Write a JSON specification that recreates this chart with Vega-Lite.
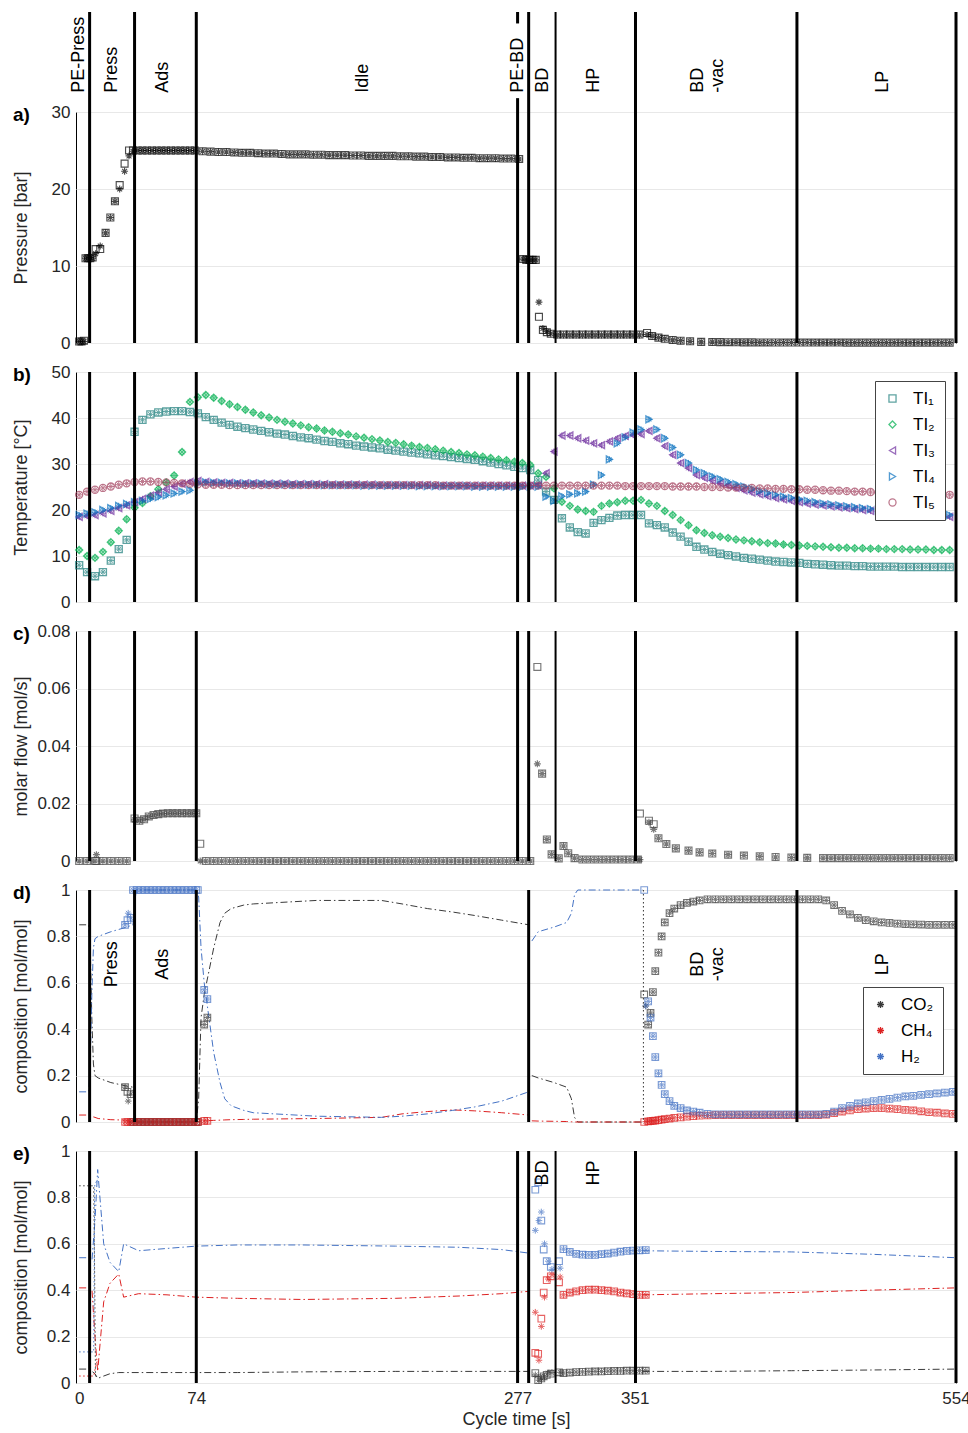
{
"$schema": "https://vega.github.io/schema/vega-lite/v6.json",
"padding": {"left": 11, "top": 9, "right": 5, "bottom": 5},
"config": {
 "font": "Liberation Sans",
 "view": {"stroke": "#000", "strokeWidth": 1},
 "axis": {"labelFont": "Liberation Sans", "titleFont": "Liberation Sans", "labelFontSize": 17, "titleFontSize": 18, "labelColor": "#262626", "titleColor": "#262626", "titleFontWeight": "normal", "ticks": false, "domain": false, "gridColor": "#e8e8e8", "labelPadding": 6, "labelFlush": false, "labelOverlap": false},
 "legend": {"labelFont": "Liberation Sans", "labelColor": "#000"}
},
"resolve": {"scale": {"color": "independent", "shape": "independent"}, "legend": {"color": "independent", "shape": "independent"}},
"datasets": {
 "ph": [{"t":6.6},{"t":35},{"t":74},{"t":277},{"t":284},{"t":351.5},{"t":453.5},{"t":554}],
 "lab": [{"t":0,"s":"PE-Press"},{"t":20.7,"s":"Press"},{"t":53,"s":"Ads"},{"t":179.3,"s":"Idle"},{"t":277.2,"s":"PE-BD"},{"t":293,"s":"BD"},{"t":325.3,"s":"HP"},{"t":391,"s":"BD\n-vac"},{"t":508,"s":"LP"}],
 "pa": [
  {"t":0,"m":0.2,"s":0.2},{"t":1.5,"m":0.2,"s":0.2},{"t":3,"m":0.3,"s":0.2},
  {"t":4,"m":11,"s":11},{"t":5.5,"m":11,"s":11},{"t":7,"m":11,"s":11.1},{"t":8.5,"m":11.1,"s":11},
  {"t":10.4,"m":12.2,"s":11.6},{"t":13.3,"m":12.2,"s":12.6},{"t":16.7,"m":14.3,"s":14.3},{"t":19.7,"m":16.3,"s":16.3},{"t":22.6,"m":18.4,"s":18.4},{"t":25.6,"m":20.5,"s":20},{"t":28.7,"m":23.3,"s":22.3},{"t":31.5,"m":25,"s":24.3},{"t":34,"m":25,"s":24.9},
  {"t":37,"m":25,"s":25},{"t":40,"m":25,"s":25},{"t":43,"m":25,"s":25},{"t":46,"m":25,"s":25},{"t":49,"m":25,"s":25},{"t":52,"m":25,"s":25},{"t":55,"m":25,"s":25},{"t":58,"m":25,"s":25},{"t":61,"m":25,"s":25},{"t":64,"m":25,"s":25},{"t":67,"m":25,"s":25},{"t":70,"m":25,"s":25},{"t":73,"m":25,"s":25},
  {"t":78,"m":24.9,"s":24.9},{"t":83,"m":24.85,"s":24.85},{"t":88,"m":24.8,"s":24.8},{"t":93,"m":24.8,"s":24.8},{"t":98,"m":24.75,"s":24.75},{"t":103,"m":24.7,"s":24.7},{"t":108,"m":24.7,"s":24.7},{"t":113,"m":24.65,"s":24.65},{"t":118,"m":24.6,"s":24.6},{"t":123,"m":24.6,"s":24.6},{"t":128,"m":24.55,"s":24.55},{"t":133,"m":24.5,"s":24.5},{"t":138,"m":24.5,"s":24.5},{"t":143,"m":24.5,"s":24.5},{"t":148,"m":24.45,"s":24.45},{"t":153,"m":24.45,"s":24.45},{"t":158,"m":24.4,"s":24.4},{"t":163,"m":24.4,"s":24.4},{"t":168,"m":24.4,"s":24.4},{"t":173,"m":24.35,"s":24.35},{"t":178,"m":24.35,"s":24.35},{"t":183,"m":24.3,"s":24.3},{"t":188,"m":24.3,"s":24.3},{"t":193,"m":24.3,"s":24.3},{"t":198,"m":24.3,"s":24.3},{"t":203,"m":24.25,"s":24.25},{"t":208,"m":24.25,"s":24.25},{"t":213,"m":24.2,"s":24.2},{"t":218,"m":24.2,"s":24.2},{"t":223,"m":24.15,"s":24.15},{"t":228,"m":24.15,"s":24.15},{"t":233,"m":24.1,"s":24.1},{"t":238,"m":24.1,"s":24.1},{"t":243,"m":24.05,"s":24.05},{"t":248,"m":24.05,"s":24.05},{"t":253,"m":24,"s":24},{"t":258,"m":24,"s":24},{"t":263,"m":24,"s":24},{"t":268,"m":23.95,"s":23.95},{"t":273,"m":23.95,"s":23.95},{"t":278,"m":23.9,"s":23.9},
  {"t":280.5,"m":10.9,"s":10.9},{"t":282.5,"m":10.8,"s":10.8},{"t":284.5,"m":10.8,"s":10.8},{"t":286.5,"m":10.8,"s":10.8},{"t":288.5,"m":10.8,"s":10.8},{"t":290.5,"m":3.4,"s":5.3},{"t":293,"m":1.7,"s":1.9},{"t":295.5,"m":1.4,"s":1.5},{"t":298,"m":1.2,"s":1.2},
  {"t":302,"m":1.1,"s":1.05},{"t":306,"m":1.1,"s":1.05},{"t":310,"m":1.1,"s":1.05},{"t":314,"m":1.1,"s":1.05},{"t":318,"m":1.1,"s":1.05},{"t":322,"m":1.1,"s":1.05},{"t":326,"m":1.1,"s":1.05},{"t":330,"m":1.1,"s":1.05},{"t":334,"m":1.1,"s":1.05},{"t":338,"m":1.1,"s":1.05},{"t":342,"m":1.1,"s":1.05},{"t":346,"m":1.1,"s":1.05},{"t":350,"m":1.1,"s":1.05},{"t":354,"m":1.1,"s":1.05},
  {"t":358.8,"m":1.3,"s":1.1},{"t":362,"m":0.9,"s":0.9},{"t":366,"m":0.7,"s":0.7},{"t":370,"m":0.55,"s":0.55},{"t":375,"m":0.4,"s":0.4},{"t":380,"m":0.3,"s":0.3},{"t":386,"m":0.22,"s":0.22},{"t":393,"m":0.15,"s":0.15},{"t":400,"m":0.12,"s":0.12},
  {"t":405,"m":0.11,"s":0.11},{"t":410,"m":0.1,"s":0.1},{"t":415,"m":0.09,"s":0.09},{"t":420,"m":0.085,"s":0.085},{"t":425,"m":0.08,"s":0.08},{"t":430,"m":0.075,"s":0.075},{"t":435,"m":0.07,"s":0.07},{"t":440,"m":0.065,"s":0.065},{"t":445,"m":0.06,"s":0.06},{"t":450,"m":0.06,"s":0.06},{"t":455,"m":0.06,"s":0.06},{"t":460,"m":0.06,"s":0.06},{"t":465,"m":0.055,"s":0.055},{"t":470,"m":0.055,"s":0.055},{"t":475,"m":0.055,"s":0.055},{"t":480,"m":0.055,"s":0.055},{"t":485,"m":0.05,"s":0.05},{"t":490,"m":0.05,"s":0.05},{"t":495,"m":0.05,"s":0.05},{"t":500,"m":0.05,"s":0.05},{"t":505,"m":0.05,"s":0.05},{"t":510,"m":0.05,"s":0.05},{"t":515,"m":0.05,"s":0.05},{"t":520,"m":0.05,"s":0.05},{"t":525,"m":0.05,"s":0.05},{"t":530,"m":0.05,"s":0.05},{"t":535,"m":0.05,"s":0.05},{"t":540,"m":0.05,"s":0.05},{"t":545,"m":0.05,"s":0.05},{"t":550,"m":0.05,"s":0.05}
 ],
 "pb": [
  {"t":0,"a":8.0,"b":11.3,"c":18.5,"d":18.9,"e":23.3},{"t":5,"a":6.5,"b":10.0,"c":18.7,"d":19.2,"e":24.0},{"t":10,"a":5.6,"b":9.6,"c":18.9,"d":19.5,"e":24.4},{"t":15,"a":6.5,"b":10.9,"c":19.3,"d":20.0,"e":24.8},{"t":20,"a":9.0,"b":13.0,"c":19.8,"d":20.4,"e":25.1},{"t":25,"a":11.5,"b":15.5,"c":20.4,"d":20.9,"e":25.5},{"t":30,"a":13.5,"b":18.0,"c":21.0,"d":21.3,"e":25.8},
  {"t":35,"a":37.0,"b":20.5,"c":21.7,"d":21.7,"e":26.1},{"t":40,"a":39.6,"b":21.5,"c":22.4,"d":22.0,"e":26.2},{"t":45,"a":40.8,"b":23.0,"c":23.1,"d":22.4,"e":26.2},{"t":50,"a":41.2,"b":24.5,"c":23.8,"d":22.8,"e":26.1},{"t":55,"a":41.4,"b":26.0,"c":24.5,"d":23.2,"e":26.0},{"t":60,"a":41.5,"b":27.5,"c":25.1,"d":23.6,"e":25.9},{"t":65,"a":41.5,"b":32.6,"c":25.7,"d":24.0,"e":25.8},{"t":70,"a":41.3,"b":43.5,"c":26.1,"d":24.3,"e":25.7},
  {"t":75,"a":41.0,"b":44.5,"c":26.3,"d":25.8,"e":25.6},{"t":80,"a":40.2,"b":45.0,"c":26.1,"d":26.0,"e":25.5},{"t":85,"a":39.6,"b":44.4,"c":26.0,"d":25.9,"e":25.5},{"t":90,"a":39.0,"b":43.7,"c":25.9,"d":25.9,"e":25.5},{"t":95,"a":38.5,"b":43.0,"c":25.9,"d":25.8,"e":25.4},{"t":100,"a":38.1,"b":42.4,"c":25.8,"d":25.8,"e":25.4},{"t":105,"a":37.8,"b":41.8,"c":25.8,"d":25.7,"e":25.4},{"t":110,"a":37.5,"b":41.2,"c":25.8,"d":25.7,"e":25.4},{"t":115,"a":37.2,"b":40.6,"c":25.7,"d":25.7,"e":25.4},{"t":120,"a":36.9,"b":40.1,"c":25.7,"d":25.6,"e":25.4},{"t":125,"a":36.6,"b":39.6,"c":25.7,"d":25.6,"e":25.4},{"t":130,"a":36.4,"b":39.2,"c":25.7,"d":25.6,"e":25.4},{"t":135,"a":36.1,"b":38.8,"c":25.6,"d":25.5,"e":25.4},{"t":140,"a":35.8,"b":38.4,"c":25.6,"d":25.5,"e":25.4},{"t":145,"a":35.6,"b":38.0,"c":25.6,"d":25.5,"e":25.4},{"t":150,"a":35.3,"b":37.7,"c":25.6,"d":25.5,"e":25.4},{"t":155,"a":35.0,"b":37.3,"c":25.6,"d":25.4,"e":25.4},{"t":160,"a":34.8,"b":37.0,"c":25.5,"d":25.4,"e":25.4},{"t":165,"a":34.5,"b":36.7,"c":25.5,"d":25.4,"e":25.4},{"t":170,"a":34.3,"b":36.4,"c":25.5,"d":25.4,"e":25.4},{"t":175,"a":34.0,"b":36.0,"c":25.5,"d":25.4,"e":25.4},{"t":180,"a":33.8,"b":35.7,"c":25.5,"d":25.3,"e":25.4},{"t":185,"a":33.6,"b":35.4,"c":25.5,"d":25.3,"e":25.4},{"t":190,"a":33.4,"b":35.1,"c":25.4,"d":25.3,"e":25.4},{"t":195,"a":33.1,"b":34.8,"c":25.4,"d":25.3,"e":25.4},{"t":200,"a":32.9,"b":34.6,"c":25.4,"d":25.3,"e":25.4},{"t":205,"a":32.7,"b":34.3,"c":25.4,"d":25.3,"e":25.4},{"t":210,"a":32.5,"b":34.0,"c":25.4,"d":25.3,"e":25.4},{"t":215,"a":32.3,"b":33.7,"c":25.4,"d":25.2,"e":25.4},{"t":220,"a":32.1,"b":33.5,"c":25.4,"d":25.2,"e":25.4},{"t":225,"a":31.9,"b":33.2,"c":25.3,"d":25.2,"e":25.4},{"t":230,"a":31.7,"b":32.9,"c":25.3,"d":25.2,"e":25.3},{"t":235,"a":31.5,"b":32.6,"c":25.3,"d":25.2,"e":25.3},{"t":240,"a":31.3,"b":32.4,"c":25.3,"d":25.2,"e":25.3},{"t":245,"a":31.1,"b":32.1,"c":25.3,"d":25.2,"e":25.3},{"t":250,"a":30.9,"b":31.9,"c":25.3,"d":25.1,"e":25.3},{"t":255,"a":30.6,"b":31.6,"c":25.3,"d":25.1,"e":25.3},{"t":260,"a":30.3,"b":31.3,"c":25.3,"d":25.1,"e":25.3},{"t":265,"a":30.0,"b":31.0,"c":25.3,"d":25.1,"e":25.3},{"t":270,"a":29.7,"b":30.8,"c":25.3,"d":25.1,"e":25.3},{"t":275,"a":29.4,"b":30.5,"c":25.3,"d":25.1,"e":25.3},{"t":280,"a":29.1,"b":30.2,"c":25.3,"d":25.1,"e":25.3},{"t":285,"a":28.7,"b":29.8,"c":25.3,"d":25.1,"e":25.3},
  {"t":290,"a":26.5,"b":28.0,"c":25.4,"d":25.1,"e":25.3},{"t":295,"a":24.0,"b":27.2,"c":28.0,"d":22.9,"e":25.3},{"t":300,"a":22.2,"b":24.7,"c":32.7,"d":22.0,"e":25.3},{"t":305,"a":18.2,"b":21.8,"c":36.2,"d":23.0,"e":25.3},{"t":310,"a":16.2,"b":20.9,"c":36.2,"d":23.4,"e":25.3},{"t":315,"a":15.2,"b":20.1,"c":35.6,"d":23.6,"e":25.3},{"t":320,"a":14.9,"b":19.8,"c":35.1,"d":24.0,"e":25.3},{"t":325,"a":17.2,"b":19.6,"c":34.5,"d":25.5,"e":25.3},{"t":330,"a":17.8,"b":20.9,"c":34.1,"d":27.6,"e":25.3},{"t":335,"a":18.3,"b":21.4,"c":34.9,"d":31.0,"e":25.3},{"t":340,"a":18.8,"b":21.7,"c":35.6,"d":34.5,"e":25.3},{"t":345,"a":18.9,"b":22.0,"c":36.1,"d":35.8,"e":25.2},{"t":350,"a":18.9,"b":22.0,"c":36.3,"d":36.8,"e":25.2},{"t":355,"a":18.9,"b":22.2,"c":36.5,"d":37.5,"e":25.2},{"t":360,"a":17.1,"b":21.4,"c":37.2,"d":39.7,"e":25.2},{"t":365,"a":16.7,"b":20.9,"c":35.6,"d":37.5,"e":25.2},{"t":370,"a":16.2,"b":19.8,"c":33.9,"d":35.6,"e":25.2},{"t":375,"a":15.1,"b":18.9,"c":32.0,"d":33.6,"e":25.1},{"t":380,"a":14.2,"b":17.8,"c":30.2,"d":32.0,"e":25.1},{"t":385,"a":13.1,"b":16.7,"c":29.1,"d":30.2,"e":25.1},{"t":390,"a":12.0,"b":15.6,"c":27.6,"d":28.7,"e":25.1},{"t":395,"a":11.4,"b":15.0,"c":27.0,"d":28.0,"e":25.0},{"t":400,"a":10.9,"b":14.5,"c":26.4,"d":27.3,"e":25.0},{"t":405,"a":10.5,"b":14.2,"c":25.8,"d":26.7,"e":25.0},{"t":410,"a":10.2,"b":13.9,"c":25.3,"d":26.1,"e":24.9},{"t":415,"a":9.9,"b":13.6,"c":24.8,"d":25.6,"e":24.9},{"t":420,"a":9.6,"b":13.4,"c":24.3,"d":25.1,"e":24.8},{"t":425,"a":9.4,"b":13.2,"c":23.8,"d":24.6,"e":24.8},{"t":430,"a":9.2,"b":13.0,"c":23.4,"d":24.1,"e":24.7},{"t":435,"a":9.0,"b":12.8,"c":23.0,"d":23.7,"e":24.7},{"t":440,"a":8.8,"b":12.7,"c":22.6,"d":23.3,"e":24.6},{"t":445,"a":8.7,"b":12.5,"c":22.3,"d":22.9,"e":24.6},{"t":450,"a":8.6,"b":12.4,"c":22.0,"d":22.6,"e":24.5},{"t":455,"a":8.5,"b":12.3,"c":21.7,"d":22.3,"e":24.5},{"t":460,"a":8.3,"b":12.2,"c":21.4,"d":22.0,"e":24.4},{"t":465,"a":8.2,"b":12.1,"c":21.2,"d":21.7,"e":24.4},{"t":470,"a":8.1,"b":12.0,"c":21.0,"d":21.4,"e":24.3},{"t":475,"a":8.0,"b":11.9,"c":20.8,"d":21.2,"e":24.2},{"t":480,"a":7.9,"b":11.8,"c":20.6,"d":21.0,"e":24.2},{"t":485,"a":7.9,"b":11.8,"c":20.4,"d":20.8,"e":24.1},{"t":490,"a":7.8,"b":11.7,"c":20.2,"d":20.6,"e":24.0},{"t":495,"a":7.8,"b":11.7,"c":20.0,"d":20.4,"e":24.0},{"t":500,"a":7.7,"b":11.6,"c":19.8,"d":20.2,"e":23.9},{"t":505,"a":7.7,"b":11.6,"c":19.6,"d":20.0,"e":23.8},{"t":510,"a":7.7,"b":11.5,"c":19.5,"d":19.9,"e":23.8},{"t":515,"a":7.7,"b":11.5,"c":19.3,"d":19.7,"e":23.7},{"t":520,"a":7.6,"b":11.5,"c":19.2,"d":19.6,"e":23.6},{"t":525,"a":7.6,"b":11.4,"c":19.0,"d":19.4,"e":23.6},{"t":530,"a":7.6,"b":11.4,"c":18.9,"d":19.3,"e":23.5},{"t":535,"a":7.6,"b":11.4,"c":18.8,"d":19.2,"e":23.5},{"t":540,"a":7.6,"b":11.3,"c":18.7,"d":19.1,"e":23.4},{"t":545,"a":7.6,"b":11.3,"c":18.6,"d":19.0,"e":23.4},{"t":550,"a":7.6,"b":11.3,"c":18.5,"d":18.9,"e":23.3}
 ],
 "pc": [
  {"t":0,"m":0,"s":0},{"t":5,"m":0,"s":0},{"t":10,"m":0,"s":0},{"t":10.9,"m":0,"s":0.0022},{"t":15,"m":0,"s":0},{"t":20,"m":0,"s":0},{"t":25,"m":0,"s":0},{"t":30,"m":0,"s":0},
  {"t":35,"m":0.0148,"s":0.0143},{"t":38,"m":0.014,"s":0.014},{"t":41,"m":0.0145,"s":0.0145},{"t":44,"m":0.0155,"s":0.0155},{"t":47,"m":0.016,"s":0.016},{"t":50,"m":0.0163,"s":0.0163},{"t":53,"m":0.0165,"s":0.0165},{"t":56,"m":0.0166,"s":0.0166},{"t":59,"m":0.0166,"s":0.0166},{"t":62,"m":0.0166,"s":0.0166},{"t":65,"m":0.0166,"s":0.0166},{"t":68,"m":0.0166,"s":0.0166},{"t":71,"m":0.0166,"s":0.0166},{"t":74,"m":0.0166,"s":0.0166},
  {"t":76.5,"m":0.006,"s":0},
  {"t":80,"m":0,"s":0},{"t":85,"m":0,"s":0},{"t":90,"m":0,"s":0},{"t":95,"m":0,"s":0},{"t":100,"m":0,"s":0},{"t":105,"m":0,"s":0},{"t":110,"m":0,"s":0},{"t":115,"m":0,"s":0},{"t":120,"m":0,"s":0},{"t":125,"m":0,"s":0},{"t":130,"m":0,"s":0},{"t":135,"m":0,"s":0},{"t":140,"m":0,"s":0},{"t":145,"m":0,"s":0},{"t":150,"m":0,"s":0},{"t":155,"m":0,"s":0},{"t":160,"m":0,"s":0},{"t":165,"m":0,"s":0},{"t":170,"m":0,"s":0},{"t":175,"m":0,"s":0},{"t":180,"m":0,"s":0},{"t":185,"m":0,"s":0},{"t":190,"m":0,"s":0},{"t":195,"m":0,"s":0},{"t":200,"m":0,"s":0},{"t":205,"m":0,"s":0},{"t":210,"m":0,"s":0},{"t":215,"m":0,"s":0},{"t":220,"m":0,"s":0},{"t":225,"m":0,"s":0},{"t":230,"m":0,"s":0},{"t":235,"m":0,"s":0},{"t":240,"m":0,"s":0},{"t":245,"m":0,"s":0},{"t":250,"m":0,"s":0},{"t":255,"m":0,"s":0},{"t":260,"m":0,"s":0},{"t":265,"m":0,"s":0},{"t":270,"m":0,"s":0},{"t":275,"m":0,"s":0},{"t":280,"m":0,"s":0},{"t":285,"m":0,"s":0},
  {"t":289.5,"m":0.0675,"s":0.0338},{"t":292.5,"m":0.0304,"s":0.0304},{"t":295.5,"m":0.0075,"s":0.0075},{"t":298.5,"m":0.0023,"s":0.0023},{"t":303,"m":0.0009,"s":0.0009},{"t":306,"m":0.0052,"s":0.0052},{"t":309,"m":0.0027,"s":0.0027},{"t":313,"m":0.001,"s":0.001},
  {"t":318,"m":0.0005,"s":0.0005},{"t":323,"m":0.0005,"s":0.0005},{"t":328,"m":0.0005,"s":0.0005},{"t":333,"m":0.0005,"s":0.0005},{"t":338,"m":0.0005,"s":0.0005},{"t":343,"m":0.0005,"s":0.0005},{"t":348,"m":0.0005,"s":0.0005},{"t":353,"m":0.0005,"s":0.0005},
  {"t":354.3,"m":0.0165,"s":0.0005},{"t":360,"m":0.014,"s":0.0135},{"t":363,"m":0.0128,"s":0.011},{"t":366,"m":0.0079,"s":0.0079},{"t":371,"m":0.0059,"s":0.0059},{"t":377,"m":0.0044,"s":0.0044},{"t":385,"m":0.0036,"s":0.0036},{"t":392,"m":0.003,"s":0.003},{"t":400,"m":0.0026,"s":0.0026},{"t":410,"m":0.0022,"s":0.0022},{"t":420,"m":0.0019,"s":0.0019},{"t":430,"m":0.0016,"s":0.0016},{"t":440,"m":0.0014,"s":0.0014},{"t":450,"m":0.0012,"s":0.0012},{"t":460,"m":0.0011,"s":0.0011},{"t":470,"m":0.001,"s":0.001},
  {"t":475,"m":0.001,"s":0.001},{"t":480,"m":0.001,"s":0.001},{"t":485,"m":0.001,"s":0.001},{"t":490,"m":0.001,"s":0.001},{"t":495,"m":0.001,"s":0.001},{"t":500,"m":0.001,"s":0.001},{"t":505,"m":0.001,"s":0.001},{"t":510,"m":0.001,"s":0.001},{"t":515,"m":0.001,"s":0.001},{"t":520,"m":0.001,"s":0.001},{"t":525,"m":0.001,"s":0.001},{"t":530,"m":0.001,"s":0.001},{"t":535,"m":0.001,"s":0.001},{"t":540,"m":0.001,"s":0.001},{"t":545,"m":0.001,"s":0.001},{"t":550,"m":0.001,"s":0.001}
 ],
 "dl": [
  {"t":0,"g":1,"c":0.85,"m":0.03,"h":0.13},{"t":6,"g":1,"c":0.85,"m":0.03,"h":0.13},{"t":7,"g":1,"c":0.75,"m":0.028,"h":0.25},{"t":8,"g":1,"c":0.45,"m":0.025,"h":0.55},{"t":9,"g":1,"c":0.25,"m":0.022,"h":0.75},{"t":10,"g":1,"c":0.2,"m":0.02,"h":0.79},{"t":12,"g":1,"c":0.19,"m":0.015,"h":0.8},{"t":20,"g":1,"c":0.17,"m":0.01,"h":0.82},{"t":30,"g":1,"c":0.155,"m":0.008,"h":0.84},{"t":34,"g":1,"c":0.15,"m":0.005,"h":0.85},{"t":36,"g":1,"c":0,"m":0,"h":1},{"t":74,"g":1,"c":0,"m":0,"h":1},
  {"t":75.5,"g":1,"c":0.1,"m":0.002,"h":0.97},{"t":77,"g":1,"c":0.45,"m":0.004,"h":0.75},{"t":79,"g":1,"c":0.55,"m":0.005,"h":0.6},{"t":82,"g":1,"c":0.65,"m":0.006,"h":0.45},{"t":85,"g":1,"c":0.75,"m":0.007,"h":0.3},{"t":89,"g":1,"c":0.86,"m":0.008,"h":0.17},{"t":92,"g":1,"c":0.9,"m":0.009,"h":0.1},{"t":96,"g":1,"c":0.92,"m":0.01,"h":0.07},{"t":104,"g":1,"c":0.935,"m":0.011,"h":0.05},{"t":110,"g":1,"c":0.94,"m":0.012,"h":0.04},{"t":150,"g":1,"c":0.955,"m":0.015,"h":0.025},{"t":191,"g":1,"c":0.955,"m":0.02,"h":0.02},{"t":204,"g":1,"c":0.94,"m":0.035,"h":0.025},{"t":220,"g":1,"c":0.92,"m":0.045,"h":0.035},{"t":236,"g":1,"c":0.905,"m":0.052,"h":0.05},{"t":250,"g":1,"c":0.89,"m":0.048,"h":0.065},{"t":267,"g":1,"c":0.87,"m":0.04,"h":0.09},{"t":284,"g":1,"c":0.85,"m":0.03,"h":0.13},
  {"t":286,"g":2,"c":0.2,"m":0.005,"h":0.78},{"t":290,"g":2,"c":0.19,"m":0.004,"h":0.82},{"t":300,"g":2,"c":0.17,"m":0.003,"h":0.84},{"t":308,"g":2,"c":0.15,"m":0.002,"h":0.86},{"t":311,"g":2,"c":0.1,"m":0.001,"h":0.9},{"t":313,"g":2,"c":0.02,"m":0,"h":0.98},{"t":315,"g":2,"c":0,"m":0,"h":1},{"t":356,"g":2,"c":0,"m":0,"h":1}
 ],
 "dm": [
  {"t":29,"k":"b","c":0.15,"m":0,"h":0.85},{"t":30.5,"k":"s","c":0.13,"m":0,"h":0.87},{"t":31,"k":"a","c":0.09,"m":0,"h":0.9},{"t":32.5,"k":"b","c":0.12,"m":0,"h":0.88},{"t":34,"k":"b","c":0,"m":0,"h":1},
  {"t":36.5,"k":"b","c":0,"m":0,"h":1},{"t":39,"k":"b","c":0,"m":0,"h":1},{"t":41.5,"k":"b","c":0,"m":0,"h":1},{"t":44,"k":"b","c":0,"m":0,"h":1},{"t":46.5,"k":"b","c":0,"m":0,"h":1},{"t":49,"k":"b","c":0,"m":0,"h":1},{"t":51.5,"k":"b","c":0,"m":0,"h":1},{"t":54,"k":"b","c":0,"m":0,"h":1},{"t":56.5,"k":"b","c":0,"m":0,"h":1},{"t":59,"k":"b","c":0,"m":0,"h":1},{"t":61.5,"k":"b","c":0,"m":0,"h":1},{"t":64,"k":"b","c":0,"m":0,"h":1},{"t":66.5,"k":"b","c":0,"m":0,"h":1},{"t":69,"k":"b","c":0,"m":0,"h":1},{"t":71.5,"k":"b","c":0,"m":0,"h":1},{"t":74,"k":"b","c":0,"m":0,"h":1},
  {"t":75,"k":"s","c":0,"m":0,"h":1},{"t":79,"k":"b","c":0.42,"m":0.005,"h":0.57},{"t":81,"k":"b","c":0.45,"m":0.005,"h":0.53},
  {"t":357,"k":"s","c":0.55,"m":0,"h":1},{"t":358,"k":"a","c":0.5,"m":0.002,"h":0.5},{"t":359.5,"k":"b","c":0.42,"m":0.003,"h":0.52},{"t":361,"k":"b","c":0.47,"m":0.004,"h":0.45},{"t":362.5,"k":"b","c":0.56,"m":0.005,"h":0.37},{"t":364,"k":"b","c":0.65,"m":0.006,"h":0.28},{"t":366,"k":"b","c":0.73,"m":0.008,"h":0.21},{"t":368,"k":"b","c":0.8,"m":0.01,"h":0.16},{"t":370,"k":"b","c":0.86,"m":0.012,"h":0.12},{"t":373,"k":"b","c":0.9,"m":0.015,"h":0.09},{"t":376,"k":"b","c":0.92,"m":0.018,"h":0.07},{"t":380,"k":"b","c":0.935,"m":0.02,"h":0.06},{"t":384,"k":"b","c":0.945,"m":0.023,"h":0.05},{"t":388,"k":"b","c":0.95,"m":0.025,"h":0.045},{"t":392,"k":"b","c":0.955,"m":0.027,"h":0.04},{"t":397,"k":"b","c":0.96,"m":0.028,"h":0.035},
  {"t":402,"k":"b","c":0.96,"m":0.03,"h":0.033},{"t":407,"k":"b","c":0.96,"m":0.03,"h":0.033},{"t":412,"k":"b","c":0.96,"m":0.03,"h":0.033},{"t":417,"k":"b","c":0.96,"m":0.03,"h":0.033},{"t":422,"k":"b","c":0.96,"m":0.03,"h":0.033},{"t":427,"k":"b","c":0.96,"m":0.03,"h":0.033},{"t":432,"k":"b","c":0.96,"m":0.03,"h":0.033},{"t":437,"k":"b","c":0.96,"m":0.03,"h":0.033},{"t":442,"k":"b","c":0.96,"m":0.03,"h":0.033},{"t":447,"k":"b","c":0.96,"m":0.03,"h":0.033},{"t":452,"k":"b","c":0.96,"m":0.03,"h":0.033},{"t":457,"k":"b","c":0.96,"m":0.03,"h":0.033},{"t":462,"k":"b","c":0.96,"m":0.03,"h":0.033},{"t":467,"k":"b","c":0.96,"m":0.03,"h":0.033},
  {"t":472,"k":"b","c":0.955,"m":0.032,"h":0.035},{"t":477,"k":"b","c":0.935,"m":0.038,"h":0.045},{"t":482,"k":"b","c":0.91,"m":0.045,"h":0.06},{"t":487,"k":"b","c":0.895,"m":0.05,"h":0.07},{"t":492,"k":"b","c":0.88,"m":0.055,"h":0.08},{"t":497,"k":"b","c":0.87,"m":0.058,"h":0.085},{"t":502,"k":"b","c":0.865,"m":0.06,"h":0.09},{"t":507,"k":"b","c":0.86,"m":0.06,"h":0.095},{"t":512,"k":"b","c":0.858,"m":0.058,"h":0.1},{"t":517,"k":"b","c":0.855,"m":0.055,"h":0.105},{"t":522,"k":"b","c":0.853,"m":0.052,"h":0.11},{"t":527,"k":"b","c":0.852,"m":0.05,"h":0.113},{"t":532,"k":"b","c":0.851,"m":0.046,"h":0.117},{"t":537,"k":"b","c":0.85,"m":0.042,"h":0.12},{"t":542,"k":"b","c":0.85,"m":0.04,"h":0.123},{"t":547,"k":"b","c":0.85,"m":0.037,"h":0.127},{"t":552,"k":"b","c":0.85,"m":0.035,"h":0.13}
 ],
 "el": [
  {"t":0,"g":1,"c":0.06,"m":0.41,"h":0.54},{"t":6.8,"g":1,"c":0.06,"m":0.41,"h":0.54},{"t":8.1,"g":1,"c":0.05,"m":0.4,"h":0.53},{"t":10,"g":1,"c":0.04,"m":0.2,"h":0.7},{"t":11.7,"g":1,"c":0.02,"m":0.05,"h":0.92},{"t":15.5,"g":1,"c":0.03,"m":0.35,"h":0.6},{"t":19.5,"g":1,"c":0.04,"m":0.43,"h":0.52},{"t":25,"g":1,"c":0.045,"m":0.47,"h":0.48},{"t":28.1,"g":1,"c":0.045,"m":0.37,"h":0.6},{"t":37.6,"g":1,"c":0.045,"m":0.385,"h":0.57},{"t":55.5,"g":1,"c":0.045,"m":0.38,"h":0.58},{"t":74,"g":1,"c":0.045,"m":0.37,"h":0.59},{"t":100,"g":1,"c":0.045,"m":0.365,"h":0.595},{"t":141,"g":1,"c":0.048,"m":0.36,"h":0.595},{"t":200,"g":1,"c":0.05,"m":0.365,"h":0.59},{"t":240,"g":1,"c":0.05,"m":0.375,"h":0.585},{"t":267,"g":1,"c":0.05,"m":0.385,"h":0.575},{"t":284,"g":1,"c":0.05,"m":0.395,"h":0.56},
  {"t":356,"g":2,"c":0.05,"m":0.38,"h":0.57},{"t":400,"g":2,"c":0.05,"m":0.385,"h":0.567},{"t":450,"g":2,"c":0.053,"m":0.39,"h":0.565},{"t":500,"g":2,"c":0.056,"m":0.4,"h":0.555},{"t":554,"g":2,"c":0.06,"m":0.41,"h":0.54}
 ],
 "ed": [
  {"t":0,"c":0.85,"m":0.03,"h":0.134},{"t":6.2,"c":0.85,"m":0.03,"h":0.134},{"t":9.2,"c":0.85,"m":0.03,"h":0.134},{"t":9.8,"c":0.45,"m":0.05,"h":0.85},{"t":10.3,"c":0.03,"m":0.07,"h":0.86},{"t":11.7,"c":0.02,"m":0.1,"h":0.88}
 ],
 "em": [
  {"t":288.2,"k":"s","c":0.043,"m":0.13,"h":0.833},{"t":288.2,"k":"a","c":0.035,"m":0.305,"h":0.658},{"t":290,"k":"s","c":0.012,"m":0.126,"h":0.865},{"t":290.5,"k":"a","c":0.012,"m":0.098,"h":0.7},{"t":292,"k":"s","c":0.02,"m":0.277,"h":0.7},{"t":292,"k":"a","c":0.02,"m":0.244,"h":0.737},{"t":293.5,"k":"s","c":0.029,"m":0.39,"h":0.575},{"t":294,"k":"a","c":0.029,"m":0.37,"h":0.6},{"t":295.4,"k":"s","c":0.035,"m":0.443,"h":0.525},{"t":296.4,"k":"a","c":0.043,"m":0.448,"h":0.525},{"t":298,"k":"s","c":0.04,"m":0.46,"h":0.5},{"t":298.7,"k":"a","c":0.045,"m":0.467,"h":0.49},{"t":303.2,"k":"s","c":0.046,"m":0.434,"h":0.525},{"t":303.9,"k":"a","c":0.046,"m":0.457,"h":0.495},
  {"t":306,"k":"b","c":0.043,"m":0.38,"h":0.577},{"t":310,"k":"b","c":0.045,"m":0.39,"h":0.565},{"t":314,"k":"b","c":0.047,"m":0.395,"h":0.557},{"t":318,"k":"b","c":0.048,"m":0.4,"h":0.553},{"t":322,"k":"b","c":0.049,"m":0.402,"h":0.552},{"t":326,"k":"b","c":0.05,"m":0.402,"h":0.552},{"t":330,"k":"b","c":0.05,"m":0.4,"h":0.555},{"t":334,"k":"b","c":0.051,"m":0.398,"h":0.558},{"t":338,"k":"b","c":0.052,"m":0.395,"h":0.562},{"t":342,"k":"b","c":0.052,"m":0.39,"h":0.566},{"t":346,"k":"b","c":0.053,"m":0.386,"h":0.569},{"t":350,"k":"b","c":0.053,"m":0.383,"h":0.571},{"t":354,"k":"b","c":0.053,"m":0.38,"h":0.572},{"t":358,"k":"b","c":0.053,"m":0.38,"h":0.573}
 ]
},
"spacing": 29,
"bounds": "flush",
"vconcat": [
 {
  "width": 880, "height": 231,
  "layer": [
   {"data": {"name": "pa"}, "transform": [{"fold": ["m", "s"], "as": ["k", "v"]}],
    "mark": {"type": "point", "filled": false, "strokeWidth": 1.15, "size": 48, "color": "#000"},
    "encoding": {
     "x": {"field": "t", "type": "quantitative", "scale": {"domain": [-2, 554], "nice": false, "zero": false}, "axis": null},
     "y": {"field": "v", "type": "quantitative", "scale": {"domain": [0, 30], "nice": false}, "axis": {"values": [0, 10, 20, 30], "title": "Pressure [bar]", "titleX": -46, "grid": true}},
     "shape": {"field": "k", "type": "nominal", "scale": {"domain": ["m", "s"], "range": ["square", "M0,-1L0,1M-1,0L1,0M-0.7,-0.7L0.7,0.7M-0.7,0.7L0.7,-0.7"]}, "legend": null}}},
   {"data": {"name": "ph"}, "mark": {"type": "rule", "strokeWidth": 3, "color": "#000"},
    "encoding": {"x": {"field": "t", "type": "quantitative", "axis": null}, "y": {"datum": 0}, "y2": {"datum": 43}}},
   {"data": {"values": [{}]}, "mark": {"type": "rule", "strokeWidth": 2, "color": "#000"},
    "encoding": {"x": {"datum": 301, "axis": null}, "y": {"datum": 0}, "y2": {"datum": 43}}},
   {"data": {"values": [{}]}, "mark": {"type": "rule", "strokeWidth": 8, "color": "#fff"},
    "encoding": {"x": {"datum": 277, "axis": null}, "y": {"datum": 31.8}, "y2": {"datum": 41.5}}},
   {"data": {"name": "lab"}, "mark": {"type": "text", "angle": 270, "align": "left", "baseline": "middle", "fontSize": 18, "lineBreak": "\n", "color": "#000"},
    "encoding": {"x": {"field": "t", "type": "quantitative", "axis": null}, "y": {"datum": 32.5}, "text": {"field": "s"}}},
   {"data": {"values": [{}]}, "mark": {"type": "text", "text": "a)", "fontSize": 19, "fontWeight": "bold", "align": "left", "baseline": "middle", "dy": 3, "color": "#000"},
    "encoding": {"x": {"datum": -41.8, "axis": null}, "y": {"datum": 30}}}
  ]
 },
 {
  "width": 880, "height": 230,
  "layer": [
   {"data": {"name": "pb"}, "transform": [{"fold": ["a", "b", "c", "d", "e"], "as": ["k", "v"]}],
    "mark": {"type": "point", "filled": false, "strokeWidth": 1.3, "size": 50},
    "encoding": {
     "x": {"field": "t", "type": "quantitative", "scale": {"domain": [-2, 554], "nice": false, "zero": false}, "axis": null},
     "y": {"field": "v", "type": "quantitative", "scale": {"domain": [0, 50], "nice": false}, "axis": {"values": [0, 10, 20, 30, 40, 50], "title": "Temperature [°C]", "titleX": -46, "grid": true}},
     "color": {"field": "k", "type": "nominal", "scale": {"domain": ["a", "b", "c", "d", "e"], "range": ["#1b7d7b", "#00b050", "#7030a0", "#0a72c0", "#a3405e"]},
      "legend": {"title": null, "orient": "none", "legendX": 799, "legendY": 9, "fillColor": "white", "strokeColor": "#444", "padding": 9, "rowPadding": 8, "labelFontSize": 17, "symbolSize": 50, "symbolStrokeWidth": 1.3, "labelOffset": 12, "labelExpr": "datum.label == 'a' ? 'TI₁' : datum.label == 'b' ? 'TI₂' : datum.label == 'c' ? 'TI₃' : datum.label == 'd' ? 'TI₄' : 'TI₅'"}},
     "shape": {"field": "k", "type": "nominal", "scale": {"domain": ["a", "b", "c", "d", "e"], "range": ["square", "diamond", "triangle-left", "triangle-right", "circle"]},
      "legend": {"title": null, "orient": "none", "legendX": 799, "legendY": 9, "fillColor": "white", "strokeColor": "#444", "padding": 9, "rowPadding": 8, "labelFontSize": 17, "symbolSize": 50, "symbolStrokeWidth": 1.3, "labelOffset": 12, "labelExpr": "datum.label == 'a' ? 'TI₁' : datum.label == 'b' ? 'TI₂' : datum.label == 'c' ? 'TI₃' : datum.label == 'd' ? 'TI₄' : 'TI₅'"}}}},
   {"data": {"name": "pb"}, "transform": [{"fold": ["a", "b", "c", "d", "e"], "as": ["k", "v"]}],
    "mark": {"type": "point", "filled": false, "strokeWidth": 1, "size": 40, "shape": "M0,-1L0,1M-1,0L1,0M-0.7,-0.7L0.7,0.7M-0.7,0.7L0.7,-0.7"},
    "encoding": {"x": {"field": "t", "type": "quantitative", "axis": null}, "y": {"field": "v", "type": "quantitative"}, "color": {"field": "k", "type": "nominal", "legend": null}}},
   {"data": {"name": "ph"}, "mark": {"type": "rule", "strokeWidth": 3, "color": "#000"}, "encoding": {"x": {"field": "t", "type": "quantitative", "axis": null}}},
   {"data": {"values": [{}]}, "mark": {"type": "rule", "strokeWidth": 2, "color": "#000"}, "encoding": {"x": {"datum": 301, "axis": null}}},
   {"data": {"values": [{}]}, "mark": {"type": "text", "text": "b)", "fontSize": 19, "fontWeight": "bold", "align": "left", "baseline": "middle", "dy": 3, "color": "#000"},
    "encoding": {"x": {"datum": -41.8, "axis": null}, "y": {"datum": 50}}}
  ]
 },
 {
  "width": 880, "height": 230,
  "layer": [
   {"data": {"name": "pc"}, "transform": [{"fold": ["m", "s"], "as": ["k", "v"]}],
    "mark": {"type": "point", "filled": false, "strokeWidth": 1.15, "size": 48, "color": "#404040"},
    "encoding": {
     "x": {"field": "t", "type": "quantitative", "scale": {"domain": [-2, 554], "nice": false, "zero": false}, "axis": null},
     "y": {"field": "v", "type": "quantitative", "scale": {"domain": [0, 0.08], "nice": false}, "axis": {"values": [0, 0.02, 0.04, 0.06, 0.08], "format": "~g", "title": "molar flow [mol/s]", "titleX": -46, "grid": true}},
     "shape": {"field": "k", "type": "nominal", "scale": {"domain": ["m", "s"], "range": ["square", "M0,-1L0,1M-1,0L1,0M-0.7,-0.7L0.7,0.7M-0.7,0.7L0.7,-0.7"]}, "legend": null}}},
   {"data": {"name": "ph"}, "mark": {"type": "rule", "strokeWidth": 3, "color": "#000"}, "encoding": {"x": {"field": "t", "type": "quantitative", "axis": null}}},
   {"data": {"values": [{}]}, "mark": {"type": "rule", "strokeWidth": 2, "color": "#000"}, "encoding": {"x": {"datum": 301, "axis": null}}},
   {"data": {"values": [{}]}, "mark": {"type": "text", "text": "c)", "fontSize": 19, "fontWeight": "bold", "align": "left", "baseline": "middle", "dy": 3, "color": "#000"},
    "encoding": {"x": {"datum": -41.8, "axis": null}, "y": {"datum": 0.08}}}
  ]
 },
 {
  "width": 880, "height": 232,
  "layer": [
   {"data": {"name": "dl"}, "transform": [{"fold": ["c", "m", "h"], "as": ["k", "v"]}],
    "mark": {"type": "line", "strokeWidth": 1, "strokeDash": [7, 3, 1.5, 3]},
    "encoding": {
     "x": {"field": "t", "type": "quantitative", "scale": {"domain": [-2, 554], "nice": false, "zero": false}, "axis": null},
     "y": {"field": "v", "type": "quantitative", "scale": {"domain": [0, 1], "nice": false}, "axis": {"values": [0, 0.2, 0.4, 0.6, 0.8, 1], "format": "~g", "title": "composition [mol/mol]", "titleX": -46, "grid": true}},
     "color": {"field": "k", "type": "nominal", "scale": {"domain": ["c", "m", "h"], "range": ["#3a3a3a", "#dd2222", "#4472c4"]},
      "legend": {"title": null, "orient": "none", "legendX": 787, "legendY": 97, "fillColor": "white", "strokeColor": "#444", "padding": 9, "rowPadding": 8, "labelFontSize": 17, "symbolType": "M0,-1L0,1M-1,0L1,0M-0.7,-0.7L0.7,0.7M-0.7,0.7L0.7,-0.7", "symbolSize": 50, "symbolStrokeWidth": 1.3, "symbolDash": [], "labelOffset": 12, "labelExpr": "datum.label == 'c' ? 'CO₂' : datum.label == 'm' ? 'CH₄' : 'H₂'"}},
     "detail": {"field": "g", "type": "nominal"}}},
   {"data": {"name": "dm"}, "transform": [{"filter": "datum.k != 'a'"}, {"fold": ["c", "m", "h"], "as": ["k2", "v"]}],
    "mark": {"type": "point", "filled": false, "strokeWidth": 1.1, "size": 44, "shape": "square"},
    "encoding": {"x": {"field": "t", "type": "quantitative", "axis": null}, "y": {"field": "v", "type": "quantitative"}, "color": {"field": "k2", "type": "nominal", "legend": null}}},
   {"data": {"name": "dm"}, "transform": [{"filter": "datum.k != 's'"}, {"fold": ["c", "m", "h"], "as": ["k2", "v"]}],
    "mark": {"type": "point", "filled": false, "strokeWidth": 1, "size": 44, "shape": "M0,-1L0,1M-1,0L1,0M-0.7,-0.7L0.7,0.7M-0.7,0.7L0.7,-0.7"},
    "encoding": {"x": {"field": "t", "type": "quantitative", "axis": null}, "y": {"field": "v", "type": "quantitative"}, "color": {"field": "k2", "type": "nominal", "legend": null}}},
   {"data": {"values": [{}]}, "mark": {"type": "rule", "strokeWidth": 1, "color": "#333", "strokeDash": [1.5, 2.5]}, "encoding": {"x": {"datum": 356.5, "axis": null}}},
   {"data": {"name": "ph"}, "transform": [{"filter": "datum.t != 277 && datum.t != 351.5"}], "mark": {"type": "rule", "strokeWidth": 3, "color": "#000"}, "encoding": {"x": {"field": "t", "type": "quantitative", "axis": null}}},
   {"data": {"name": "lab"}, "transform": [{"filter": "datum.s == 'Press' || datum.s == 'Ads' || datum.s == 'LP' || indexof(datum.s, 'vac') >= 0"}],
    "mark": {"type": "text", "angle": 270, "align": "center", "baseline": "middle", "fontSize": 18, "lineBreak": "\n", "color": "#000"},
    "encoding": {"x": {"field": "t", "type": "quantitative", "axis": null}, "y": {"datum": 0.68}, "text": {"field": "s"}}},
   {"data": {"values": [{}]}, "mark": {"type": "text", "text": "d)", "fontSize": 19, "fontWeight": "bold", "align": "left", "baseline": "middle", "dy": 3, "color": "#000"},
    "encoding": {"x": {"datum": -41.8, "axis": null}, "y": {"datum": 1}}}
  ]
 },
 {
  "width": 880, "height": 232,
  "layer": [
   {"data": {"name": "el"}, "transform": [{"fold": ["c", "m", "h"], "as": ["k", "v"]}],
    "mark": {"type": "line", "strokeWidth": 1, "strokeDash": [7, 3, 1.5, 3]},
    "encoding": {
     "x": {"field": "t", "type": "quantitative", "scale": {"domain": [-2, 554], "nice": false, "zero": false}, "axis": {"values": [0, 74, 277, 351, 554], "title": "Cycle time [s]", "grid": false, "labelPadding": 7, "titlePadding": 4}},
     "y": {"field": "v", "type": "quantitative", "scale": {"domain": [0, 1], "nice": false}, "axis": {"values": [0, 0.2, 0.4, 0.6, 0.8, 1], "format": "~g", "title": "composition [mol/mol]", "titleX": -46, "grid": true}},
     "color": {"field": "k", "type": "nominal", "scale": {"domain": ["c", "m", "h"], "range": ["#3a3a3a", "#dd2222", "#4472c4"]}, "legend": null},
     "detail": {"field": "g", "type": "nominal"}}},
   {"data": {"name": "ed"}, "transform": [{"fold": ["c", "m", "h"], "as": ["k", "v"]}],
    "mark": {"type": "line", "strokeWidth": 1, "strokeDash": [1.5, 2.5]},
    "encoding": {"x": {"field": "t", "type": "quantitative"}, "y": {"field": "v", "type": "quantitative"}, "color": {"field": "k", "type": "nominal", "legend": null}}},
   {"data": {"name": "em"}, "transform": [{"filter": "datum.k != 'a'"}, {"fold": ["c", "m", "h"], "as": ["k2", "v"]}],
    "mark": {"type": "point", "filled": false, "strokeWidth": 1.1, "size": 44, "shape": "square"},
    "encoding": {"x": {"field": "t", "type": "quantitative"}, "y": {"field": "v", "type": "quantitative"}, "color": {"field": "k2", "type": "nominal", "legend": null}}},
   {"data": {"name": "em"}, "transform": [{"filter": "datum.k != 's'"}, {"fold": ["c", "m", "h"], "as": ["k2", "v"]}],
    "mark": {"type": "point", "filled": false, "strokeWidth": 1, "size": 44, "shape": "M0,-1L0,1M-1,0L1,0M-0.7,-0.7L0.7,0.7M-0.7,0.7L0.7,-0.7"},
    "encoding": {"x": {"field": "t", "type": "quantitative"}, "y": {"field": "v", "type": "quantitative"}, "color": {"field": "k2", "type": "nominal", "legend": null}}},
   {"data": {"name": "ph"}, "transform": [{"filter": "datum.t != 35 && datum.t != 453.5"}], "mark": {"type": "rule", "strokeWidth": 3, "color": "#000"}, "encoding": {"x": {"field": "t", "type": "quantitative"}}},
   {"data": {"values": [{}]}, "mark": {"type": "rule", "strokeWidth": 2, "color": "#000"}, "encoding": {"x": {"datum": 301}}},
   {"data": {"name": "lab"}, "transform": [{"filter": "datum.s == 'BD' || datum.s == 'HP'"}],
    "mark": {"type": "text", "angle": 270, "align": "center", "baseline": "middle", "fontSize": 18, "color": "#000"},
    "encoding": {"x": {"field": "t", "type": "quantitative"}, "y": {"datum": 0.905}, "text": {"field": "s"}}},
   {"data": {"values": [{}]}, "mark": {"type": "text", "text": "e)", "fontSize": 19, "fontWeight": "bold", "align": "left", "baseline": "middle", "dy": 3, "color": "#000"},
    "encoding": {"x": {"datum": -41.8}, "y": {"datum": 1}}}
  ]
 }
]
}
